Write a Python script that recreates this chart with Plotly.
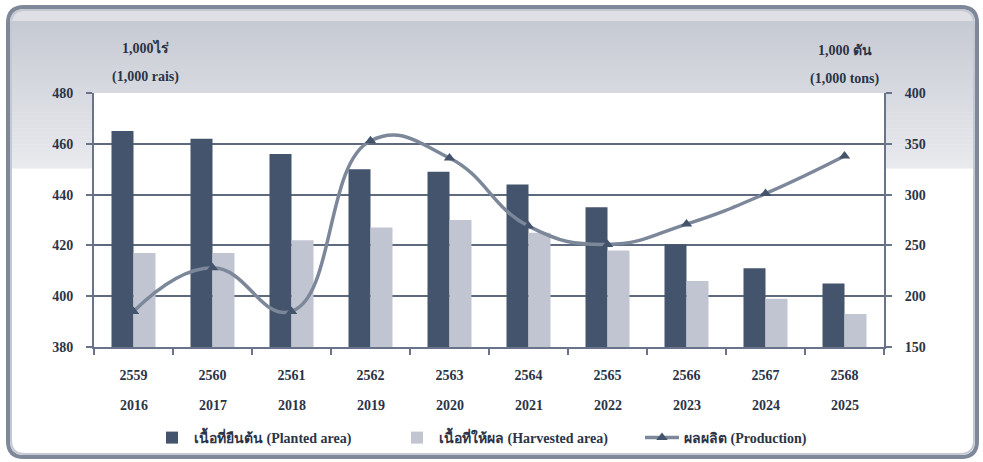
import plotly.graph_objects as go

years_be = ["2559", "2560", "2561", "2562", "2563", "2564", "2565", "2566", "2567", "2568"]
years_ce = ["2016", "2017", "2018", "2019", "2020", "2021", "2022", "2023", "2024", "2025"]
planted = [465, 462, 456, 450, 449, 444, 435, 420.5, 411, 405]
harvested = [417, 417, 422, 427, 430, 425, 418, 406, 399, 393]
production = [185, 228, 185, 353, 336, 269, 251, 271, 301, 338]

W, H = 983, 462
L, R, T, B = 94, 99, 93, 115
PW, PH = W - L - R, H - T - B

def px(x):
    return (x - L) / PW

def py(y):
    return (H - B - y) / PH

FONT = "Liberation Serif, Times New Roman, serif"
TXT = "#2B3447"
AX = "#69748A"

fig = go.Figure()
fig.add_trace(go.Bar(x=years_be, y=planted, name="เนื้อที่ยืนต้น (Planted area)",
                     marker=dict(color="#44546C", line=dict(width=0))))
fig.add_trace(go.Bar(x=years_be, y=harvested, name="เนื้อที่ให้ผล (Harvested area)",
                     marker=dict(color="#C1C5D1", line=dict(width=0))))
fig.add_trace(go.Scatter(x=years_be, y=production, name="ผลผลิต (Production)", yaxis="y2",
                         mode="lines+markers",
                         line=dict(color="#7C889A", width=3.5, shape="spline", smoothing=1.3),
                         marker=dict(symbol="triangle-up", size=10, color="#44546C")))

shapes = []
# gradient top area
top, bot = 9, 168
n = 40
c0 = (196, 200, 209)
c1 = (233, 234, 238)
for i in range(n):
    y0 = top + (bot - top) * i / n
    y1 = top + (bot - top) * (i + 1) / n
    t = i / (n - 1)
    if y0 < 20:
        c = (222, 224, 229)
    else:
        c = tuple(int(c0[k] + (c1[k] - c0[k]) * t) for k in range(3))
    shapes.append(dict(type="rect", xref="paper", yref="paper",
                       x0=px(11), x1=px(974), y0=py(y1 + 0.5), y1=py(y0),
                       fillcolor="rgb(%d,%d,%d)" % c, line=dict(width=0), layer="below"))
# white plot area
shapes.append(dict(type="rect", xref="paper", yref="paper", x0=0, x1=1, y0=0, y1=1,
                   fillcolor="white", line=dict(width=0), layer="below"))

# rounded frame
def rrect(x0, y0, x1, y1, r):
    X0, X1 = px(x0), px(x1)
    Y0, Y1 = py(y0), py(y1)
    rx, ry = r / PW, r / PH
    return (f"M {X0+rx},{Y0} L {X1-rx},{Y0} Q {X1},{Y0} {X1},{Y0-ry} "
            f"L {X1},{Y1+ry} Q {X1},{Y1} {X1-rx},{Y1} L {X0+rx},{Y1} "
            f"Q {X0},{Y1} {X0},{Y1+ry} L {X0},{Y0-ry} Q {X0},{Y0} {X0+rx},{Y0} Z")

shapes.append(dict(type="path", xref="paper", yref="paper", path=rrect(8, 7, 977, 457, 16),
                   line=dict(color="#7E8899", width=4), layer="above"))
shapes.append(dict(type="path", xref="paper", yref="paper", path=rrect(11, 10, 974, 454, 14),
                   line=dict(color="#C3C8D1", width=2), layer="above"))

annotations = []
for i, ce in enumerate(years_ce):
    annotations.append(dict(x=i, y=py(405), xref="x", yref="paper", text=ce, showarrow=False,
                            font=dict(family=FONT, size=14, color=TXT, weight="bold"),
                            xanchor="center", yanchor="middle"))
for txt, x, y in [("1,000ไร่", 145, 47), ("(1,000 rais)", 145, 77),
                  ("1,000 ตัน", 845, 50), ("(1,000 tons)", 845, 79)]:
    annotations.append(dict(x=px(x), y=py(y), xref="paper", yref="paper", text=txt,
                            showarrow=False, xanchor="center", yanchor="middle",
                            font=dict(family=FONT, size=14, color=TXT, weight="bold")))

fig.update_layout(
    width=W, height=H,
    margin=dict(l=L, r=R, t=T, b=B, autoexpand=False),
    paper_bgcolor="white", plot_bgcolor="white",
    barmode="group", bargap=0.443, bargroupgap=0,
    font=dict(family=FONT, size=14, color=TXT),
    showlegend=True,
    legend=dict(orientation="h", x=px(150), xanchor="left", y=py(438), yanchor="middle",
                font=dict(family=FONT, size=14, color=TXT, weight="bold"),
                bgcolor="rgba(0,0,0,0)", itemwidth=34, tracegroupgap=0,
                entrywidth=196, entrywidthmode="pixels"),
    xaxis=dict(type="category", tickson="boundaries", ticks="outside", ticklen=6,
               tickcolor=AX, tickwidth=1.5, showline=True, linecolor=AX, linewidth=2,
               showgrid=False, tickfont=dict(family=FONT, size=14, color=TXT, weight="bold"),
               ticklabelstandoff=14, range=[-0.5, 9.5]),
    yaxis=dict(range=[380, 480], dtick=20, ticks="outside", ticklen=6, tickcolor=AX,
               tickwidth=1.5, showline=True, linecolor=AX, linewidth=2, showgrid=True,
               gridcolor="#5E6A7E", gridwidth=1.5, zeroline=False,
               tickfont=dict(family=FONT, size=14, color=TXT, weight="bold"),
               ticklabelstandoff=10),
    yaxis2=dict(range=[150, 400], dtick=50, overlaying="y", side="right", ticks="outside",
                ticklen=6, tickcolor=AX, tickwidth=1.5, showline=True, linecolor=AX,
                linewidth=2, showgrid=False, zeroline=False,
                tickfont=dict(family=FONT, size=14, color=TXT, weight="bold"),
                ticklabelstandoff=10),
    shapes=shapes, annotations=annotations,
)

fig.write_html("out.html", config={"displayModeBar": False},
               post_script="document.body.style.margin='0';document.body.style.overflow='hidden';")
